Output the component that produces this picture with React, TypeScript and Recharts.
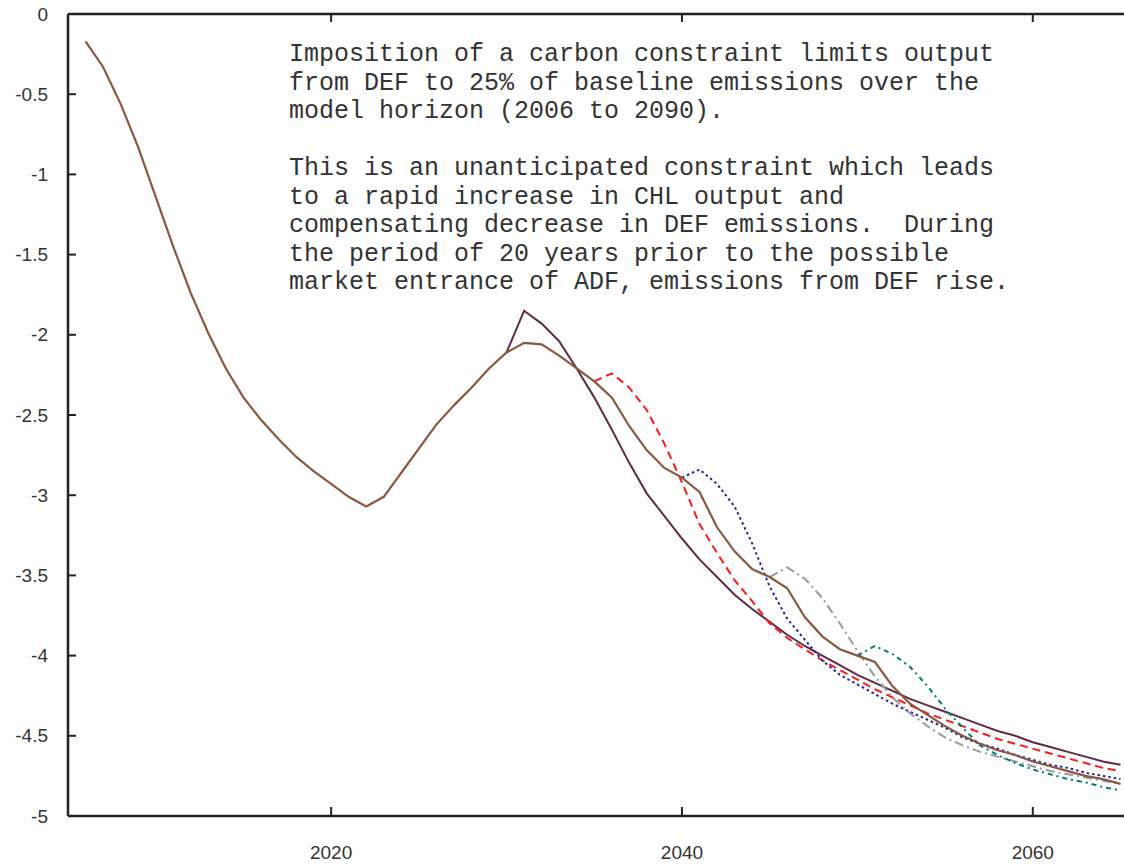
import React from "react";
import { LineChart, Line, XAxis, YAxis, ReferenceLine } from "recharts";

// years shown on the chart
const YEARS = [
  2006, 2007, 2008, 2009, 2010, 2011, 2012, 2013, 2014, 2015,
  2016, 2017, 2018, 2019, 2020, 2021, 2022, 2023, 2024, 2025,
  2026, 2027, 2028, 2029, 2030, 2031, 2032, 2033, 2034, 2035,
  2036, 2037, 2038, 2039, 2040, 2041, 2042, 2043, 2044, 2045,
  2046, 2047, 2048, 2049, 2050, 2051, 2052, 2053, 2054, 2055,
  2056, 2057, 2058, 2059, 2060, 2061, 2062, 2063, 2064, 2065,
];

// brown solid line (runs the whole horizon)
const BASE = [
  -0.17, -0.33, -0.56, -0.83, -1.14, -1.45, -1.74, -1.99, -2.21, -2.39,
  -2.53, -2.65, -2.76, -2.85, -2.93, -3.01, -3.07, -3.01, -2.86, -2.71,
  -2.56, -2.44, -2.33, -2.21, -2.11, -2.05, -2.06, -2.13, -2.21, -2.29,
  -2.39, -2.57, -2.72, -2.83, -2.89, -2.98, -3.2, -3.35, -3.46, -3.51,
  -3.58, -3.76, -3.88, -3.96, -4.0, -4.04, -4.19, -4.3, -4.37, -4.44,
  -4.5, -4.55, -4.59, -4.62, -4.66, -4.69, -4.72, -4.75, -4.77, -4.8,
];

// branches, each starting at its own year
const PURPLE_START = 2030;
const PURPLE = [
  -2.11, -1.85, -1.93, -2.04, -2.21, -2.39, -2.59, -2.8, -2.99, -3.13,
  -3.27, -3.4, -3.51, -3.62, -3.71, -3.79, -3.87, -3.94, -4.0, -4.06,
  -4.12, -4.17, -4.22, -4.27, -4.31, -4.35, -4.39, -4.43, -4.47, -4.5,
  -4.54, -4.57, -4.6, -4.63, -4.66, -4.68,
];

const RED_START = 2035;
const RED = [
  -2.29, -2.24, -2.33, -2.47, -2.68, -2.92, -3.18, -3.36, -3.53, -3.66,
  -3.8, -3.89, -3.96, -4.03, -4.09, -4.15, -4.21, -4.26, -4.31, -4.36,
  -4.4, -4.44, -4.48, -4.52, -4.55, -4.58, -4.61, -4.64, -4.67, -4.7,
  -4.72,
];

const BLUE_START = 2040;
const BLUE = [
  -2.89, -2.84, -2.93, -3.07, -3.3, -3.57, -3.77, -3.9, -4.03, -4.12,
  -4.18, -4.24, -4.3, -4.35, -4.4, -4.45, -4.51, -4.55, -4.58, -4.62,
  -4.65, -4.68, -4.7, -4.73, -4.75, -4.77,
];

const GRAY_START = 2045;
const GRAY = [
  -3.51, -3.45, -3.52, -3.64, -3.8, -3.97, -4.13, -4.26, -4.36, -4.44,
  -4.51, -4.56, -4.6, -4.63, -4.66, -4.69, -4.72, -4.74, -4.76, -4.78,
  -4.8,
];

const TEAL_START = 2050;
const TEAL = [
  -4.0, -3.94, -3.99, -4.07, -4.19, -4.33, -4.45, -4.56, -4.62, -4.67,
  -4.71, -4.74, -4.77, -4.79, -4.82, -4.84,
];

const X_TICKS = [2020, 2040, 2060];
const Y_TICKS = [0, -0.5, -1, -1.5, -2, -2.5, -3, -3.5, -4, -4.5, -5];

const NOTE = [
  "Imposition of a carbon constraint limits output",
  "from DEF to 25% of baseline emissions over the",
  "model horizon (2006 to 2090).",
  "",
  "This is an unanticipated constraint which leads",
  "to a rapid increase in CHL output and",
  "compensating decrease in DEF emissions.  During",
  "the period of 20 years prior to the possible",
  "market entrance of ADF, emissions from DEF rise.",
];

const pick = (arr: number[], start: number, year: number) =>
  year >= start && year - start < arr.length ? arr[year - start] : null;

const data = YEARS.map((year, i) => ({
  year,
  base: BASE[i],
  purple: pick(PURPLE, PURPLE_START, year),
  red: pick(RED, RED_START, year),
  blue: pick(BLUE, BLUE_START, year),
  gray: pick(GRAY, GRAY_START, year),
  teal: pick(TEAL, TEAL_START, year),
}));

const AXIS = "#222";
const LABEL_FONT = "'Liberation Sans', Arial, sans-serif";
const X_DOMAIN: [number, number] = [2005, 2065.2];

// label only; the inward tick marks come from tickLine with a negative tickSize
// (so x/y handed in here sit at the inner end of each tick)
const BottomLabel = (props: any) => {
  const { x, y, payload } = props;
  return (
    <text x={x} y={y + 52} textAnchor="middle" fontSize={19} fontFamily={LABEL_FONT} fill="#333">
      {payload.value}
    </text>
  );
};

const LeftLabel = (props: any) => {
  const { x, y, payload } = props;
  return (
    <text x={x - 28} y={y + 6.5} textAnchor="end" fontSize={19} fontFamily={LABEL_FONT} fill="#333">
      {String(payload.value)}
    </text>
  );
};

export default function App() {
  return (
    <div style={{ position: "absolute", left: 0, top: 0, width: 1124, height: 866, background: "#fff" }}>
      <LineChart width={1124} height={866} data={data} margin={{ top: 14, right: 0, bottom: 0, left: 0 }}>
        <XAxis
          dataKey="year"
          type="number"
          domain={X_DOMAIN}
          ticks={X_TICKS}
          height={50}
          tickSize={-9}
          tickMargin={0}
          tickLine={{ stroke: AXIS, strokeWidth: 2 }}
          axisLine={{ stroke: AXIS, strokeWidth: 2.5 }}
          tick={<BottomLabel />}
          allowDataOverflow
        />
        <YAxis
          type="number"
          domain={[-5, 0]}
          ticks={Y_TICKS}
          width={68}
          tickSize={-8}
          tickMargin={0}
          tickLine={{ stroke: AXIS, strokeWidth: 2 }}
          axisLine={{ stroke: AXIS, strokeWidth: 2.5 }}
          tick={<LeftLabel />}
          allowDataOverflow
        />
        {/* top frame with its inward ticks */}
        <ReferenceLine y={0} stroke={AXIS} strokeWidth={2.5} />
        {X_TICKS.map((t) => (
          <ReferenceLine
            key={t}
            segment={[
              { x: t, y: 0 },
              { x: t, y: -0.05 },
            ]}
            stroke={AXIS}
            strokeWidth={2}
          />
        ))}
        <Line type="linear" dataKey="purple" stroke="#5e2a48" strokeWidth={2} dot={false} isAnimationActive={false} />
        <Line type="linear" dataKey="red" stroke="#ff1a1a" strokeWidth={2} strokeDasharray="8 5" dot={false} isAnimationActive={false} />
        <Line type="linear" dataKey="blue" stroke="#23239a" strokeWidth={2} strokeDasharray="2.5 3" dot={false} isAnimationActive={false} />
        <Line type="linear" dataKey="gray" stroke="#9a9a9a" strokeWidth={2} strokeDasharray="9 4 2 4" dot={false} isAnimationActive={false} />
        <Line type="linear" dataKey="teal" stroke="#007b7b" strokeWidth={2} strokeDasharray="5 4 2 4" dot={false} isAnimationActive={false} />
        <Line type="linear" dataKey="base" stroke="#8a5840" strokeWidth={2.2} dot={false} isAnimationActive={false} />
      </LineChart>
      <div
        style={{
          position: "absolute",
          left: 289,
          top: 41,
          fontFamily: "'Liberation Mono', 'Courier New', monospace",
          fontSize: 25,
          lineHeight: "28.5px",
          color: "#333",
          whiteSpace: "pre",
        }}
      >
        {NOTE.map((line, i) => (
          <div key={i}>{line === "" ? "\u00a0" : line}</div>
        ))}
      </div>
    </div>
  );
}
